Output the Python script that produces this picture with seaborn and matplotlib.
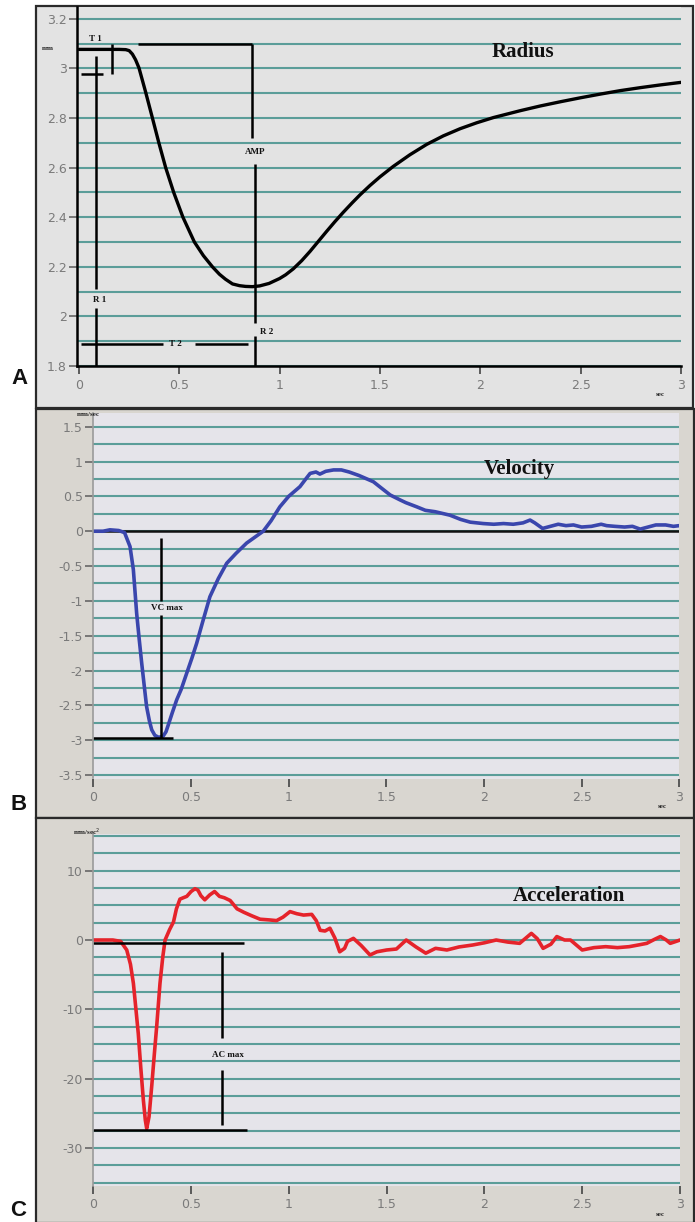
import numpy as np
import pandas as pd
import matplotlib
matplotlib.use("Agg")
import matplotlib.pyplot as plt
import seaborn as sns
from matplotlib.patches import Rectangle
from matplotlib.ticker import MultipleLocator, FixedLocator, FuncFormatter

# ---------------- data ----------------
radius_t = [0.00, 0.10, 0.20, 0.233, 0.25, 0.266, 0.282, 0.299, 0.315, 0.332, 0.365, 0.398,
            0.432, 0.472, 0.518, 0.575, 0.62, 0.665, 0.70, 0.73, 0.765, 0.80, 0.83, 0.864,
            0.90, 0.947, 1.00, 1.03, 1.068, 1.11, 1.151, 1.19, 1.234, 1.275, 1.317, 1.36,
            1.40, 1.45, 1.50, 1.566, 1.649, 1.733, 1.815, 1.899, 1.982, 2.065, 2.20, 2.30,
            2.40, 2.50, 2.60, 2.70, 2.80, 2.90, 3.00]
radius_mm = [3.077, 3.077, 3.077, 3.076, 3.072, 3.058, 3.035, 3.002, 2.955, 2.905, 2.803, 2.70,
             2.60, 2.50, 2.40, 2.30, 2.245, 2.20, 2.17, 2.15, 2.131, 2.124, 2.121, 2.12,
             2.123, 2.133, 2.153, 2.168, 2.192, 2.225, 2.262, 2.30, 2.343, 2.382, 2.42, 2.457,
             2.49, 2.528, 2.563, 2.605, 2.652, 2.694, 2.728, 2.757, 2.781, 2.802, 2.83, 2.849,
             2.866, 2.882, 2.897, 2.911, 2.923, 2.934, 2.944]

velocity_t = [0.00, 0.05, 0.085, 0.13, 0.16, 0.188, 0.205, 0.222, 0.235, 0.248, 0.262, 0.273,
              0.287, 0.299, 0.315, 0.335, 0.358, 0.372, 0.384, 0.405, 0.427, 0.45, 0.478,
              0.505, 0.529, 0.56, 0.597, 0.64, 0.683, 0.73, 0.785, 0.83, 0.87, 0.91, 0.955,
              1.00, 1.058, 1.085, 1.11, 1.14, 1.16, 1.19, 1.23, 1.27, 1.31, 1.36, 1.434,
              1.47, 1.52, 1.57, 1.60, 1.656, 1.70, 1.75, 1.826, 1.88, 1.93, 1.996, 2.05,
              2.10, 2.15, 2.20, 2.236, 2.26, 2.30, 2.34, 2.38, 2.42, 2.458, 2.50, 2.55,
              2.60, 2.628, 2.67, 2.72, 2.76, 2.80, 2.84, 2.88, 2.93, 2.97, 3.00]
velocity_mm_s = [0.00, 0.00, 0.02, 0.01, -0.02, -0.22, -0.55, -1.18, -1.55, -1.90, -2.25, -2.52,
                 -2.72, -2.85, -2.93, -2.96, -2.94, -2.88, -2.78, -2.60, -2.42, -2.27, -2.04,
                 -1.82, -1.61, -1.30, -0.94, -0.68, -0.46, -0.32, -0.17, -0.08, 0.00, 0.15, 0.35,
                 0.50, 0.64, 0.74, 0.83, 0.85, 0.82, 0.86, 0.88, 0.88, 0.85, 0.80, 0.71,
                 0.63, 0.52, 0.45, 0.41, 0.35, 0.30, 0.28, 0.23, 0.17, 0.13, 0.11, 0.10,
                 0.11, 0.10, 0.12, 0.16, 0.12, 0.04, 0.07, 0.10, 0.08, 0.09, 0.06, 0.07,
                 0.10, 0.08, 0.07, 0.06, 0.07, 0.03, 0.06, 0.09, 0.09, 0.07, 0.08]

accel_t = [0.00, 0.10, 0.14, 0.171, 0.19, 0.205, 0.218, 0.23, 0.243, 0.256, 0.266, 0.273,
           0.285, 0.299, 0.312, 0.324, 0.341, 0.355, 0.367, 0.39, 0.41, 0.425, 0.443, 0.46,
           0.478, 0.50, 0.52, 0.535, 0.55, 0.57, 0.595, 0.62, 0.645, 0.67, 0.70, 0.735,
           0.77, 0.81, 0.853, 0.90, 0.937, 0.97, 1.006, 1.04, 1.075, 1.117, 1.14, 1.16,
           1.185, 1.21, 1.235, 1.26, 1.285, 1.30, 1.33, 1.37, 1.415, 1.45, 1.50, 1.55,
           1.60, 1.65, 1.70, 1.75, 1.808, 1.87, 1.94, 2.00, 2.06, 2.12, 2.18, 2.24,
           2.27, 2.30, 2.34, 2.37, 2.41, 2.44, 2.50, 2.56, 2.62, 2.68, 2.74, 2.79,
           2.83, 2.87, 2.90, 2.93, 2.95, 2.98, 3.00]
accel_mm_s2 = [0.0, 0.0, -0.2, -1.44, -3.5, -6.25, -10.0, -13.5, -18.5, -23.1, -26.0, -27.2,
               -25.5, -21.0, -16.5, -12.5, -6.25, -2.5, 0.0, 1.5, 2.6, 4.5, 5.9, 6.1,
               6.3, 7.0, 7.4, 7.2, 6.4, 5.8, 6.5, 7.0, 6.3, 6.1, 5.7, 4.5,
               4.0, 3.5, 3.0, 2.9, 2.8, 3.3, 4.1, 3.8, 3.6, 3.7, 2.8, 1.4,
               1.3, 1.7, 0.3, -1.7, -1.2, -0.2, 0.24, -0.8, -2.16, -1.7, -1.44, -1.3,
               0.0, -1.0, -1.9, -1.2, -1.44, -1.0, -0.72, -0.4, 0.0, -0.3, -0.48, 0.96,
               0.2, -1.2, -0.6, 0.5, 0.0, 0.0, -1.44, -1.1, -0.96, -1.1, -0.96, -0.7,
               -0.48, 0.1, 0.5, 0.0, -0.48, -0.2, 0.0]

x_ticks = [0, 0.5, 1, 1.5, 2, 2.5, 3]
radius_yticks = [1.8, 2.0, 2.2, 2.4, 2.6, 2.8, 3.0, 3.2]
velocity_yticks = [1.5, 1.0, 0.5, 0.0, -0.5, -1.0, -1.5, -2.0, -2.5, -3.0, -3.5]
accel_yticks = [10, 0, -10, -20, -30]

# measured annotation values
R1, R2 = 3.077, 2.12
T1, T2 = 0.165, 0.87
VC_MAX, VC_T = -2.97, 0.345
AC_MAX, AC_BASE, AC_T = -27.4, -0.48, 0.657

# ---------------- figure ----------------
W, H = 695, 1222
sns.set_theme(style="white")
plt.rcParams['font.family'] = ['DejaVu Sans']

fig = plt.figure(figsize=(W / 100, H / 100), dpi=100)
fig.patch.set_facecolor('white')


def fpx(px, py):
    return px / W, 1 - py / H


def axes_px(l, t, r, b):
    return fig.add_axes([l / W, 1 - b / H, (r - l) / W, (b - t) / H])


def frame(l, t, r, b, fc):
    rect = Rectangle(fpx(l, b), (r - l) / W, (b - t) / H, transform=fig.transFigure,
                     facecolor=fc, edgecolor='#2a2a2a', linewidth=1.6, zorder=-5)
    fig.add_artist(rect)


frame(36, 6, 693, 408, '#e3e3e3')
frame(36, 409, 694, 818, '#d9d6d0')
frame(36, 818, 694, 1223, '#d9d6d0')

GRID = '#5b9d99'
TICKLAB = '#7a7a7a'
serif = ['Liberation Serif', 'DejaVu Serif']
fmt = FuncFormatter(lambda v, p: ('%g' % v))

# ---------------- Panel A ----------------
axA = axes_px(77, 6.5, 681, 366)
axA.set_facecolor('#e3e3e3')
axA.set_xlim(-0.00997, 3.0)
axA.set_ylim(1.8, 3.25)
axA.yaxis.set_major_locator(FixedLocator(radius_yticks))
axA.yaxis.set_minor_locator(MultipleLocator(0.1))
axA.xaxis.set_major_locator(FixedLocator(x_ticks))
axA.grid(axis='y', which='both', color=GRID, linewidth=1.5)
axA.set_axisbelow(True)
sns.lineplot(x=radius_t, y=radius_mm, ax=axA, color='black', linewidth=2.4,
             estimator=None, sort=False)
for s in ['top', 'right']:
    axA.spines[s].set_visible(False)
for s in ['left', 'bottom']:
    axA.spines[s].set_color('black')
    axA.spines[s].set_linewidth(1.8)

k = dict(color='black', linewidth=1.8, solid_capstyle='butt')
axA.plot([0.01, 0.12], [R1, R1], **k)
axA.plot([0.01, 0.12], [2.978, 2.978], **k)
axA.plot([T1, T1], [3.10, 2.978], **k)
axA.plot([0.085, 0.085], [3.05, 2.11], **k)
axA.plot([0.085, 0.085], [2.035, 1.8], **k)
axA.plot([0.295, 0.864], [3.098, 3.098], **k)
axA.plot([0.864, 0.864], [3.098, 2.72], **k)
axA.plot([0.875, 0.875], [2.615, 1.973], **k)
axA.plot([0.875, 0.875], [1.919, 1.8], **k)
axA.plot([0.01, 0.42], [1.888, 1.888], **k)
axA.plot([0.578, 0.842], [1.888, 1.888], **k)
ak = dict(family=serif, weight='bold', fontsize=6.5, ha='center', va='center', color='#111')
axA.text(0.08, 3.118, 'T 1', **ak)
axA.text(0.105, 2.067, 'R 1', **ak)
axA.text(0.877, 2.665, 'AMP', **ak)
axA.text(0.935, 1.939, 'R 2', **ak)
axA.text(0.478, 1.888, 'T 2', **ak)
axA.text(2.21, 3.067, 'Radius', family=serif, weight='bold', fontsize=15,
         ha='center', va='center', color='#111')

# ---------------- Panel B ----------------
axB = axes_px(93.3, 412.8, 679.3, 778.5)
axB.set_facecolor('#e5e4ea')
axB.set_xlim(0, 3)
axB.set_ylim(-3.55, 1.7)
axB.yaxis.set_major_locator(FixedLocator(velocity_yticks))
axB.yaxis.set_minor_locator(MultipleLocator(0.25))
axB.xaxis.set_major_locator(FixedLocator(x_ticks))
axB.grid(axis='y', which='both', color=GRID, linewidth=1.5)
axB.set_axisbelow(True)
axB.axhline(0, color='#111', linewidth=1.8, zorder=1.5)
sns.lineplot(x=velocity_t, y=velocity_mm_s, ax=axB, color='#3a46ad', linewidth=2.6,
             estimator=None, sort=False)
for s in ['top', 'right', 'bottom']:
    axB.spines[s].set_visible(False)
axB.spines['left'].set_color('#9a9a9a')
axB.spines['left'].set_linewidth(1.2)
axB.plot([0, 0.41], [VC_MAX, VC_MAX], **k)
axB.plot([VC_T, VC_T], [-0.1, -1.0], **k)
axB.plot([VC_T, VC_T], [-1.2, VC_MAX], **k)
axB.text(0.376, -1.1, 'VC max', **ak)
axB.text(2.18, 0.9, 'Velocity', family=serif, weight='bold', fontsize=15,
         ha='center', va='center', color='#111')

# ---------------- Panel C ----------------
axC = axes_px(93.3, 834, 680, 1186)
axC.set_facecolor('#e5e4ea')
axC.set_xlim(0, 3)
axC.set_ylim(-35.5, 15.3)
axC.yaxis.set_major_locator(FixedLocator(accel_yticks))
axC.yaxis.set_minor_locator(MultipleLocator(2.5))
axC.xaxis.set_major_locator(FixedLocator(x_ticks))
axC.grid(axis='y', which='both', color=GRID, linewidth=1.5)
axC.set_axisbelow(True)
sns.lineplot(x=accel_t, y=accel_mm_s2, ax=axC, color='#e5232b', linewidth=2.6,
             estimator=None, sort=False)
for s in ['top', 'right', 'bottom']:
    axC.spines[s].set_visible(False)
axC.spines['left'].set_color('#9a9a9a')
axC.spines['left'].set_linewidth(1.2)
axC.plot([0, 0.77], [AC_BASE, AC_BASE], **k)
axC.plot([0, 0.785], [AC_MAX, AC_MAX], **k)
axC.plot([AC_T, AC_T], [-1.7, -14.2], **k)
axC.plot([AC_T, AC_T], [-18.8, -26.7], **k)
axC.text(0.69, -16.6, 'AC max', **ak)
axC.text(2.43, 6.35, 'Acceleration', family=serif, weight='bold', fontsize=15,
         ha='center', va='center', color='#111')

for ax in (axA, axB, axC):
    ax.set_xlabel('')
    ax.set_ylabel('')
    ax.yaxis.set_major_formatter(fmt)
    ax.xaxis.set_major_formatter(fmt)
    ax.tick_params(axis='y', which='major', direction='out', length=6, width=1.2,
                   color='#666', labelcolor=TICKLAB, labelsize=9, pad=1.5, left=True)
    ax.tick_params(axis='y', which='minor', length=0)
    ax.tick_params(axis='x', which='major', direction='out', length=6, width=1.2,
                   color='#444', labelcolor=TICKLAB, labelsize=9, pad=3, bottom=True)

# unit labels
uk = dict(family=serif, weight='bold', fontsize=5, color='#222', ha='center', va='center',
          transform=fig.transFigure)
fig.text(*fpx(48, 49), 'mm', **uk)
fig.text(*fpx(88, 414), 'mm/sec', **uk)
fig.text(*fpx(87, 832), 'mm/sec$^2$', **uk)
fig.text(*fpx(660, 395), 'sec', **uk)
fig.text(*fpx(662, 807), 'sec', **uk)
fig.text(*fpx(660, 1215), 'sec', **uk)

# panel letters
lk = dict(family=['Liberation Sans', 'DejaVu Sans'], weight='bold', fontsize=16,
          color='#111', ha='center', va='center', transform=fig.transFigure)
fig.text(*fpx(19, 378), 'A', **lk)
fig.text(*fpx(19, 805), 'B', **lk)
fig.text(*fpx(18, 1211), 'C', **lk)

fig.savefig('out.png', dpi=100)
